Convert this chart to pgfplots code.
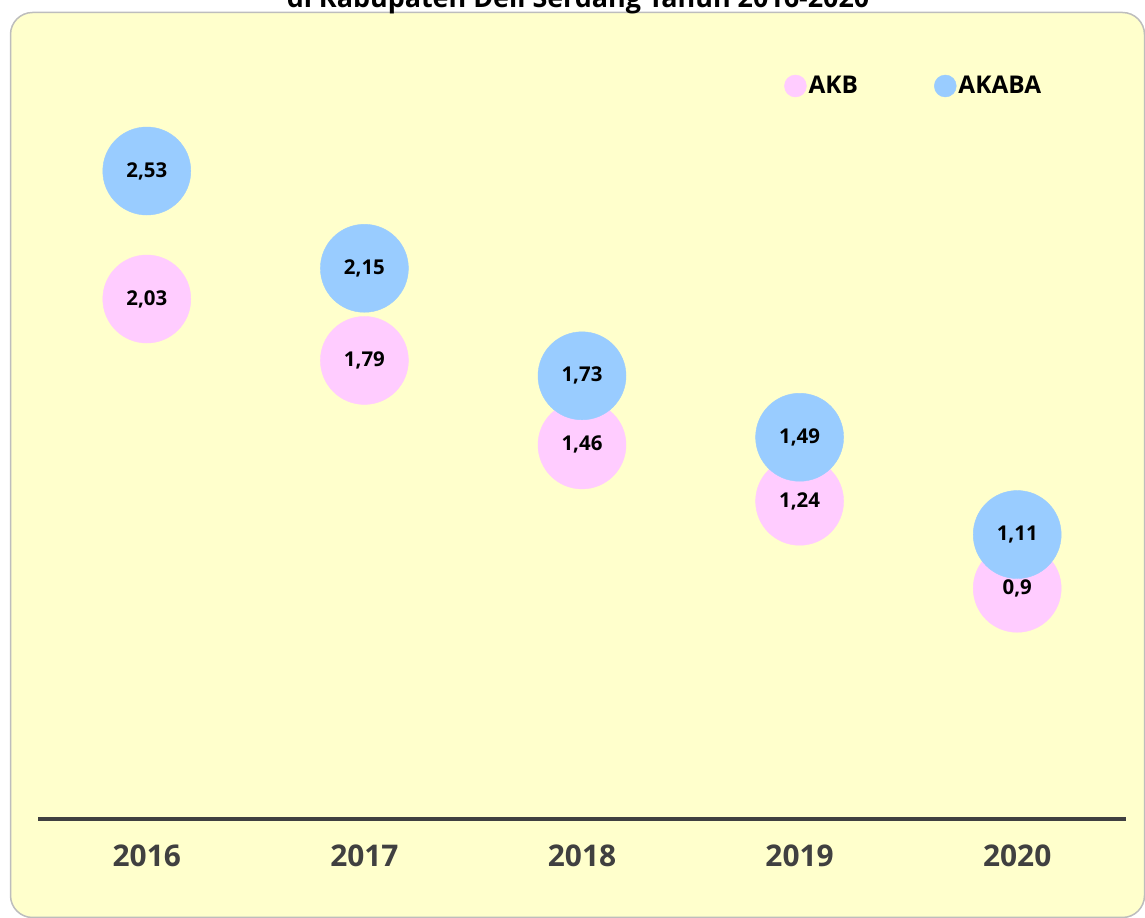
\documentclass[border=0pt]{standalone}
\usepackage{fontspec}
\setmainfont{Open Sans}
\usepackage{pgfplots}
\pgfplotsset{compat=1.18}
\usepackage{pgfplotstable}
\definecolor{akb}{HTML}{FFCCFF}
\definecolor{akaba}{HTML}{99CCFF}
\definecolor{panel}{HTML}{FFFFCC}
\definecolor{axisgray}{HTML}{404040}
\definecolor{bordergray}{HTML}{BDBDBD}

\pgfplotstableread{
x y label
0 2.03 2,03
1 1.79 1,79
2 1.46 1,46
3 1.24 1,24
4 0.90 0,9
}\akbdata

\pgfplotstableread{
x y label
0 2.53 2,53
1 2.15 2,15
2 1.73 1,73
3 1.49 1,49
4 1.11 1,11
}\akabadata

\begin{document}
\begin{tikzpicture}[x=1bp,y=1bp]
\fill[panel,draw=bordergray,line width=1.5bp,rounded corners=22bp] (10.5,0.5) rectangle (1144.5,905.5);
\node[font=\fontsize{27}{30}\selectfont\bfseries, anchor=base, inner sep=0pt] at (578,910) {di Kabupaten Deli Serdang Tahun 2016-2020};
\begin{axis}[
  at={(38bp,99.3bp)}, anchor=south west,
  scale only axis, width=1088bp, height=819.2bp,
  xmin=-0.5, xmax=4.5, ymin=0, ymax=3.2,
  axis x line*=bottom, axis y line=none,
  x axis line style={line width=4bp, draw=axisgray, -},
  xtick={0,1,2,3,4},
  xticklabels={2016,2017,2018,2019,2020},
  major tick length=0pt,
  xticklabel style={font=\fontsize{30}{32}\selectfont\bfseries, text=axisgray, yshift=-23bp},
  clip=false,
  nodes near coords,
  point meta=explicit symbolic,
  every node near coord/.style={anchor=center, font=\fontsize{20.5}{22}\selectfont\bfseries, text=black},
  legend columns=2,
  legend style={at={(0.6857,0.8944)}, anchor=west, draw=none, fill=none,
    inner sep=0pt, column sep=2bp,
    font=\fontsize{24.5}{26}\selectfont\bfseries,
    nodes={inner sep=0pt},
    /tikz/every even column/.append style={column sep=76bp}},
]
\addplot[only marks, color=akb, mark=*, mark size=44bp, mark options={draw=akb, fill=akb},
  legend image code/.code={\fill[akb] (0bp,0bp) circle (11bp);}]
  table[x=x, y=y, meta=label] {\akbdata};
\addlegendentry{AKB}
\addplot[only marks, color=akaba, mark=*, mark size=44bp, mark options={draw=akaba, fill=akaba},
  legend image code/.code={\fill[akaba] (0bp,0bp) circle (11bp);}]
  table[x=x, y=y, meta=label] {\akabadata};
\addlegendentry{AKABA}
\end{axis}
\pgfresetboundingbox
\useasboundingbox (0,0) rectangle (1145,918);
\end{tikzpicture}
\end{document}
